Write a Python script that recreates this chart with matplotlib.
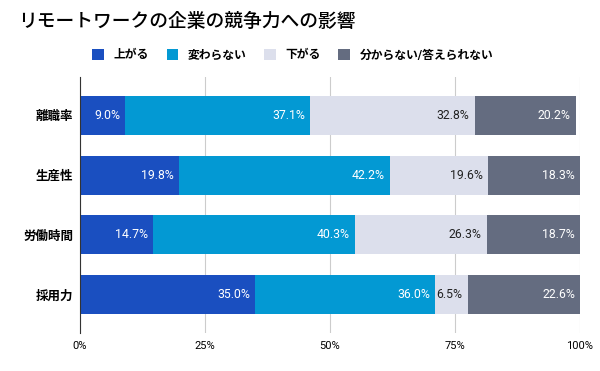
import numpy as np
import matplotlib.pyplot as plt

plt.rcParams['font.family'] = ['Roboto', 'Noto Sans CJK JP', 'DejaVu Sans']

# data
categories = ['離職率', '生産性', '労働時間', '採用力']
series = ['上がる', '変わらない', '下がる', '分からない/答えられない']
values = [
    [9.0, 19.8, 14.7, 35.0],
    [37.1, 42.2, 40.3, 36.0],
    [32.8, 19.6, 26.3, 6.5],
    [20.2, 18.3, 18.7, 22.6],
]
colors = ['#1a4fc0', '#0399d3', '#dcdfec', '#646c80']
text_colors = ['white', 'white', '#222222', 'white']
ticks = [0, 25, 50, 75, 100]

fig = plt.figure(figsize=(6, 3.71), dpi=100)
ax = fig.add_axes([0.1333, 0.1024, 0.8334, 0.6901])

y = np.arange(len(categories))
left = np.zeros(len(categories))
for vals, c, tc, name in zip(values, colors, text_colors, series):
    bars = ax.barh(y, vals, left=left, height=0.65, color=c, label=name, zorder=3)
    for b, v in zip(bars, vals):
        ax.text(b.get_x() + b.get_width() - 1.0, b.get_y() + b.get_height() / 2,
                f'{v:.1f}%', ha='right', va='center', color=tc, fontsize=8.8, zorder=4)
    left += np.array(vals)

ax.set_xlim(0, 100)
ax.set_ylim(3.645, -0.645)
ax.set_xticks(ticks)
ax.set_xticklabels([f'{t}%' for t in ticks], fontsize=8)
ax.set_yticks(y)
ax.set_yticklabels(categories, fontsize=9, fontweight='bold')
ax.tick_params(axis='y', length=0, pad=5)
ax.tick_params(axis='x', length=0, pad=6)
ax.grid(axis='x', color='#cccccc', linewidth=0.8, zorder=0)
for s in ['top', 'right', 'bottom']:
    ax.spines[s].set_visible(False)
ax.spines['left'].set_color('#333333')
ax.spines['left'].set_zorder(5)

fig.text(0.03, 0.94, 'リモートワークの企業の競争力への影響', fontsize=13.5,
         fontweight='medium', va='center')
fig.legend(loc='center', bbox_to_anchor=(0.488, 0.852), ncol=4, frameon=False,
           handlelength=1.0, handleheight=1.0, handletextpad=0.8, columnspacing=1.5,
           prop={'size': 8.5, 'weight': 'bold'})

fig.savefig('out.png', dpi=100)
